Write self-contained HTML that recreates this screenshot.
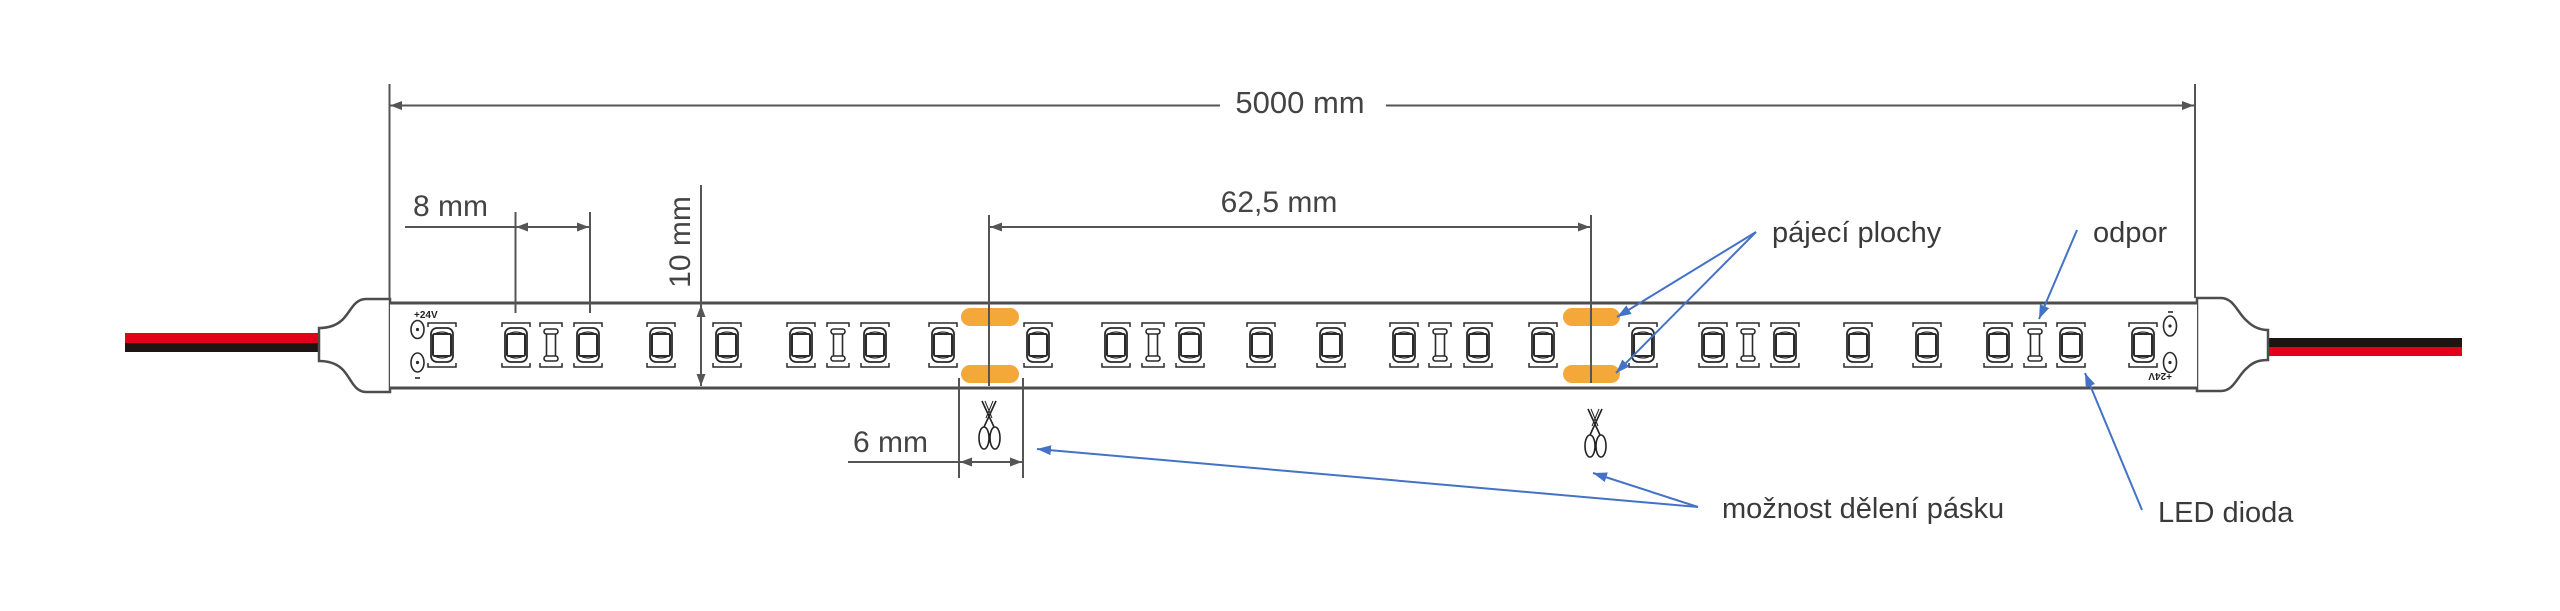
<!DOCTYPE html>
<html><head><meta charset="utf-8">
<style>html,body{margin:0;padding:0;background:#fff;}svg{display:block}</style>
</head>
<body>
<svg width="2560" height="611" viewBox="0 0 2560 611" xmlns="http://www.w3.org/2000/svg" font-family="'Liberation Sans', Arial, sans-serif">
<defs>
<marker id="ga" viewBox="0 0 12 9" refX="12" refY="4.5" markerWidth="12" markerHeight="9" markerUnits="userSpaceOnUse" orient="auto-start-reverse"><path d="M0,0 L12,4.5 L0,9 z" fill="#555"/></marker>
<marker id="ba" viewBox="0 0 14 10" refX="14" refY="5" markerWidth="14" markerHeight="10" markerUnits="userSpaceOnUse" orient="auto"><path d="M0,0 L14,5 L0,10 z" fill="#4472c4"/></marker>
<g id="led" fill="none" stroke="#2a2a2a">
  <path d="M-14,-18 V-22 H14 V-18 M-14,18 V22 H14 V18" stroke-width="1.5"/>
  <rect x="-11" y="-17" width="22" height="34" rx="6" fill="#fff" stroke-width="1.8"/>
  <path d="M-9,-10 Q0,-16 9,-10 M-9,10 Q0,16 9,10" stroke-width="1.2"/>
  <rect x="-9" y="-11" width="18" height="22" rx="1.5" stroke-width="2"/>
</g>
<g id="res" fill="#fff" stroke="#2a2a2a">
  <path d="M-11,-18 V-22 H11 V-18 M-11,18 V22 H11 V18" fill="none" stroke-width="1.5"/>
  <rect x="-4.5" y="-12" width="9" height="24" stroke-width="1.6"/>
  <rect x="-7" y="-16" width="14" height="5" rx="2.5" stroke-width="1.6"/>
  <rect x="-7" y="11" width="14" height="5" rx="2.5" stroke-width="1.6"/>
</g>
<g id="sc" fill="none" stroke="#222" stroke-width="1.6">
  <path d="M5,1 L17,27 M19,1 L7,27"/>
  <path d="M8,1 L15,18 M16,1 L9,18" stroke-width="1"/>
  <ellipse cx="7" cy="38" rx="5" ry="11"/>
  <ellipse cx="18" cy="38" rx="5" ry="11"/>
</g>
</defs>

<!-- wires -->
<rect x="125" y="333" width="196" height="10" fill="#e3001b"/>
<rect x="125" y="343" width="196" height="9" fill="#1e1414"/>
<rect x="2266" y="338" width="196" height="9" fill="#1e1414"/>
<rect x="2266" y="347" width="196" height="9" fill="#e3001b"/>

<!-- end caps -->
<path d="M390,299 H366 C353,299 350,314 341,321 C334,327 326,328 319,328 V361 C326,361 334,362 341,368 C350,375 353,392 366,392 H390 Z" fill="#fff" stroke="#4d4d4d" stroke-width="2.5"/>
<path d="M2197,298 H2221 C2234,298 2238,314 2247,321 C2254,328 2261,330 2268,330 V360 C2261,360 2254,361 2247,368 C2238,375 2234,391 2221,391 H2197 Z" fill="#fff" stroke="#4d4d4d" stroke-width="2.5"/>

<!-- strip -->
<rect x="390" y="303" width="1807" height="85" fill="#fff"/>
<line x1="390" y1="303" x2="2197" y2="303" stroke="#4d4d4d" stroke-width="3"/>
<line x1="390" y1="388" x2="2197" y2="388" stroke="#4d4d4d" stroke-width="3"/>

<!-- pads -->
<g fill="#f5a83a">
<rect x="961" y="308" width="58" height="18" rx="9"/>
<rect x="961" y="365" width="58" height="18" rx="9"/>
<rect x="1563" y="308" width="57" height="18" rx="9"/>
<rect x="1563" y="365" width="57" height="18" rx="9"/>
</g>

<!-- LEDs -->
<use href="#led" x="442" y="345"/>
<use href="#led" x="516" y="345"/>
<use href="#led" x="588" y="345"/>
<use href="#led" x="661" y="345"/>
<use href="#led" x="727" y="345"/>
<use href="#led" x="801" y="345"/>
<use href="#led" x="875" y="345"/>
<use href="#led" x="943" y="345"/>
<use href="#led" x="1038" y="345"/>
<use href="#led" x="1116" y="345"/>
<use href="#led" x="1190" y="345"/>
<use href="#led" x="1261" y="345"/>
<use href="#led" x="1331" y="345"/>
<use href="#led" x="1404" y="345"/>
<use href="#led" x="1478" y="345"/>
<use href="#led" x="1543" y="345"/>
<use href="#led" x="1643" y="345"/>
<use href="#led" x="1713" y="345"/>
<use href="#led" x="1785" y="345"/>
<use href="#led" x="1858" y="345"/>
<use href="#led" x="1927" y="345"/>
<use href="#led" x="1998" y="345"/>
<use href="#led" x="2071" y="345"/>
<use href="#led" x="2143" y="345"/>
<use href="#res" x="551" y="345"/>
<use href="#res" x="838" y="345"/>
<use href="#res" x="1153" y="345"/>
<use href="#res" x="1440" y="345"/>
<use href="#res" x="1748" y="345"/>
<use href="#res" x="2035" y="345"/>

<!-- contacts -->
<g fill="none" stroke="#2a2a2a" stroke-width="1.6">
<ellipse cx="417.5" cy="329.5" rx="6.5" ry="9"/>
<ellipse cx="417.5" cy="362.5" rx="6.5" ry="9.5"/>
<ellipse cx="2170" cy="326" rx="6.5" ry="10"/>
<ellipse cx="2170" cy="362.5" rx="6.5" ry="10"/>
<line x1="415" y1="378" x2="420" y2="378"/>
<line x1="2168" y1="312" x2="2173" y2="312"/>
</g>
<g fill="#2a2a2a">
<circle cx="417.5" cy="329.5" r="1.6"/>
<circle cx="417.5" cy="362.5" r="1.6"/>
<circle cx="2170" cy="326" r="1.6"/>
<circle cx="2170" cy="362.5" r="1.6"/>
</g>
<text x="414" y="318" font-size="10" font-weight="bold" fill="#222">+24V</text>
<text transform="translate(2172,373) rotate(180)" font-size="10" font-weight="bold" fill="#222">+24V</text>

<!-- dimension lines -->
<g stroke="#555" stroke-width="2" fill="none">
<line x1="389.5" y1="84" x2="389.5" y2="299"/>
<line x1="2195" y1="84" x2="2195" y2="298"/>
<line x1="1220" y1="105.5" x2="390" y2="105.5" marker-end="url(#ga)"/>
<line x1="1386" y1="105.5" x2="2194" y2="105.5" marker-end="url(#ga)"/>

<line x1="515.5" y1="212" x2="515.5" y2="313"/>
<line x1="590" y1="212" x2="590" y2="313"/>
<line x1="405" y1="227" x2="515" y2="227"/>
<line x1="516" y1="227" x2="589" y2="227" marker-start="url(#ga)" marker-end="url(#ga)"/>

<line x1="701" y1="185" x2="701" y2="305"/>
<line x1="701" y1="305" x2="701" y2="386" marker-start="url(#ga)" marker-end="url(#ga)"/>

<line x1="989" y1="215" x2="989" y2="386"/>
<line x1="1591" y1="215" x2="1591" y2="383"/>
<line x1="990" y1="227" x2="1590" y2="227" marker-start="url(#ga)" marker-end="url(#ga)"/>

<line x1="959" y1="378" x2="959" y2="478"/>
<line x1="1023" y1="378" x2="1023" y2="478"/>
<line x1="848" y1="462" x2="959" y2="462"/>
<line x1="960" y1="462" x2="1022" y2="462" marker-start="url(#ga)" marker-end="url(#ga)"/>
</g>

<!-- scissors -->
<use href="#sc" x="977" y="400"/>
<use href="#sc" x="1583" y="408"/>

<!-- dimension text -->
<g fill="#444" font-size="30">
<text x="1300" y="113" text-anchor="middle" font-size="31">5000 mm</text>
<text x="1279" y="212" text-anchor="middle">62,5 mm</text>
<text x="413" y="216">8 mm</text>
<text x="853" y="452">6 mm</text>
<text transform="translate(690,242) rotate(-90)" text-anchor="middle">10 mm</text>
</g>

<!-- blue annotation arrows -->
<g stroke="#4472c4" stroke-width="2" fill="none">
<line x1="1756" y1="232" x2="1617" y2="317" marker-end="url(#ba)"/>
<line x1="1756" y1="232" x2="1616" y2="373" marker-end="url(#ba)"/>
<line x1="2077" y1="230" x2="2039" y2="319" marker-end="url(#ba)"/>
<line x1="2142" y1="510" x2="2085" y2="373" marker-end="url(#ba)"/>
<line x1="1698" y1="507" x2="1593" y2="473" marker-end="url(#ba)"/>
<line x1="1698" y1="507" x2="1037" y2="449" marker-end="url(#ba)"/>
</g>

<!-- labels -->
<g fill="#3a3a3a" font-size="29">
<text x="1772" y="242">pájecí plochy</text>
<text x="2093" y="242">odpor</text>
<text x="1722" y="518">možnost dělení pásku</text>
<text x="2158" y="522">LED dioda</text>
</g>
</svg>
</body></html>
